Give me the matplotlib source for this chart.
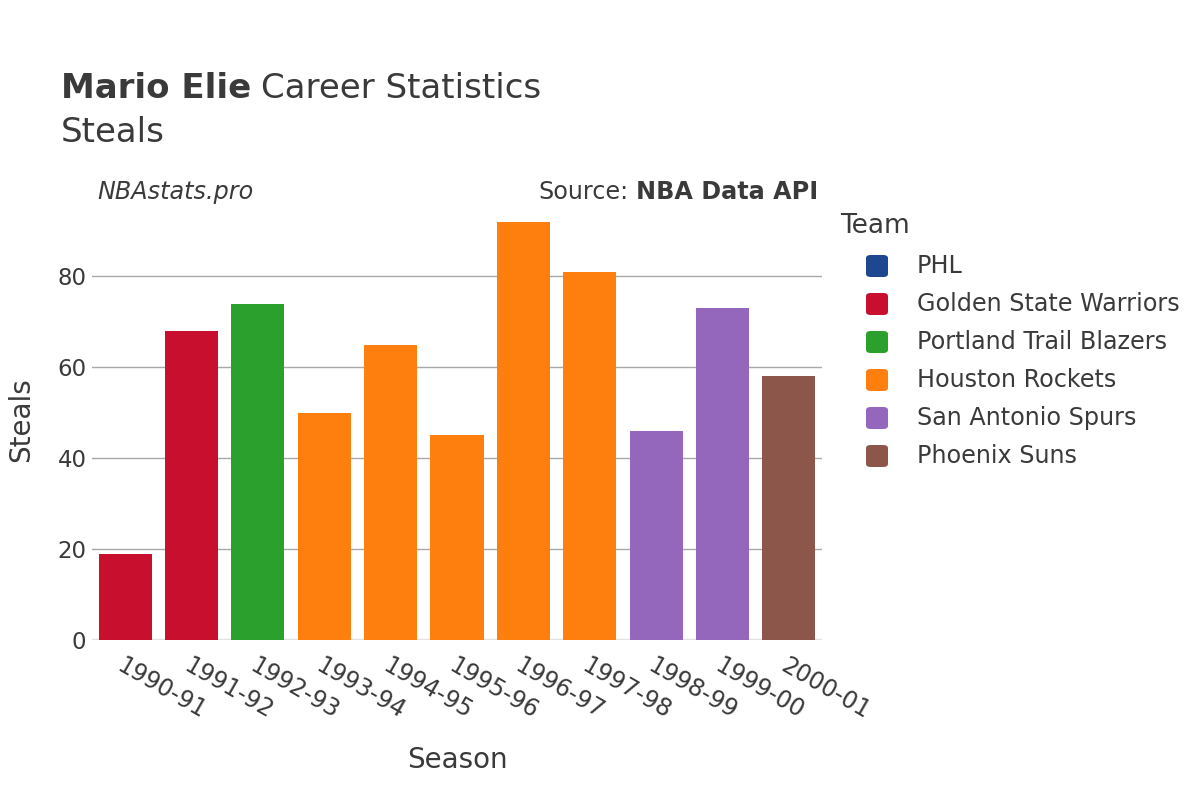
import matplotlib.pyplot as plt
from matplotlib.patches import FancyBboxPatch

seasons = ["1990-91", "1991-92", "1992-93", "1993-94", "1994-95", "1995-96",
           "1996-97", "1997-98", "1998-99", "1999-00", "2000-01"]
steals = [19, 68, 74, 50, 65, 45, 92, 81, 46, 73, 58]
teams = ["Golden State Warriors", "Golden State Warriors", "Portland Trail Blazers",
         "Houston Rockets", "Houston Rockets", "Houston Rockets", "Houston Rockets",
         "Houston Rockets", "San Antonio Spurs", "San Antonio Spurs", "Phoenix Suns"]

team_names = ["PHL", "Golden State Warriors", "Portland Trail Blazers",
              "Houston Rockets", "San Antonio Spurs", "Phoenix Suns"]
team_colors = {"PHL": "#1f4690", "Golden State Warriors": "#c8102e",
               "Portland Trail Blazers": "#2ca02c", "Houston Rockets": "#ff7f0e",
               "San Antonio Spurs": "#9467bd", "Phoenix Suns": "#8c564b"}

txt = "#3a3a3a"
plt.rcParams['font.family'] = ['DejaVu Sans']

fig = plt.figure(figsize=(12, 8), dpi=100)
ax = fig.add_axes([92 / 1200, 1 - 640 / 800, 730 / 1200, 440 / 800])

x = list(range(len(seasons)))
ax.bar(x, steals, width=0.8, color=[team_colors[t] for t in teams], zorder=3)

ax.set_xlim(-0.5, len(seasons) - 0.5)
ax.set_ylim(0, 96.8)
ax.set_yticks([0, 20, 40, 60, 80])
ax.grid(axis='y', color='#a8a8a8', linewidth=1, zorder=0)
ax.axhline(0, color='#e3e3e3', linewidth=2.5, zorder=2)
for s in ax.spines.values():
    s.set_visible(False)
ax.tick_params(length=0, labelsize=16.5, labelcolor=txt)
ax.tick_params(axis='y', pad=4)
ax.tick_params(axis='x', pad=10, labelsize=17)
ax.set_xticks(x)
ax.set_xticklabels(seasons, rotation=-30, ha='left', va='top', rotation_mode='anchor')

ax.set_xlabel("Season", fontsize=20, color=txt, labelpad=16)
ax.set_ylabel("Steals", fontsize=20, color=txt, labelpad=16)

# legend, drawn by hand to match the indented markers
fig.text(840 / 1200, 1 - 226 / 800, "Team", fontsize=19, color=txt, va='center', ha='left')
for i, t in enumerate(team_names):
    yc = 266 + 38 * i
    fig.patches.append(FancyBboxPatch((866 / 1200, 1 - (yc + 11) / 800), 22 / 1200, 22 / 800,
                                      boxstyle="round,pad=0,rounding_size=0.004",
                                      transform=fig.transFigure, facecolor=team_colors[t],
                                      edgecolor='none', figure=fig))
    fig.text(917 / 1200, 1 - yc / 800, t, fontsize=17.2, color=txt, va='center', ha='left')

# titles
fig.canvas.draw()
r = fig.canvas.get_renderer()
t1 = fig.text(61 / 1200, 1 - 89 / 800, "Mario Elie", fontsize=24.5, fontweight='bold',
              color=txt, va='center', ha='left')
bb = t1.get_window_extent(r)
fig.text(bb.x1 / 1200 + 0.008, 1 - 89 / 800, "Career Statistics", fontsize=24.5,
         color=txt, va='center', ha='left')
fig.text(61 / 1200, 1 - 132 / 800, "Steals", fontsize=24.5, color=txt, va='center', ha='left')

fig.text(97 / 1200, 1 - 192 / 800, "NBAstats.pro", fontsize=17.2, style='italic',
         color=txt, va='center', ha='left')
s2 = fig.text(818 / 1200, 1 - 192 / 800, "NBA Data API", fontsize=17.2, fontweight='bold',
              color=txt, va='center', ha='right')
bb2 = s2.get_window_extent(r)
fig.text(bb2.x0 / 1200 - 0.006, 1 - 192 / 800, "Source:", fontsize=17.2,
         color=txt, va='center', ha='right')

fig.savefig("out.png", dpi=100, facecolor='white')
